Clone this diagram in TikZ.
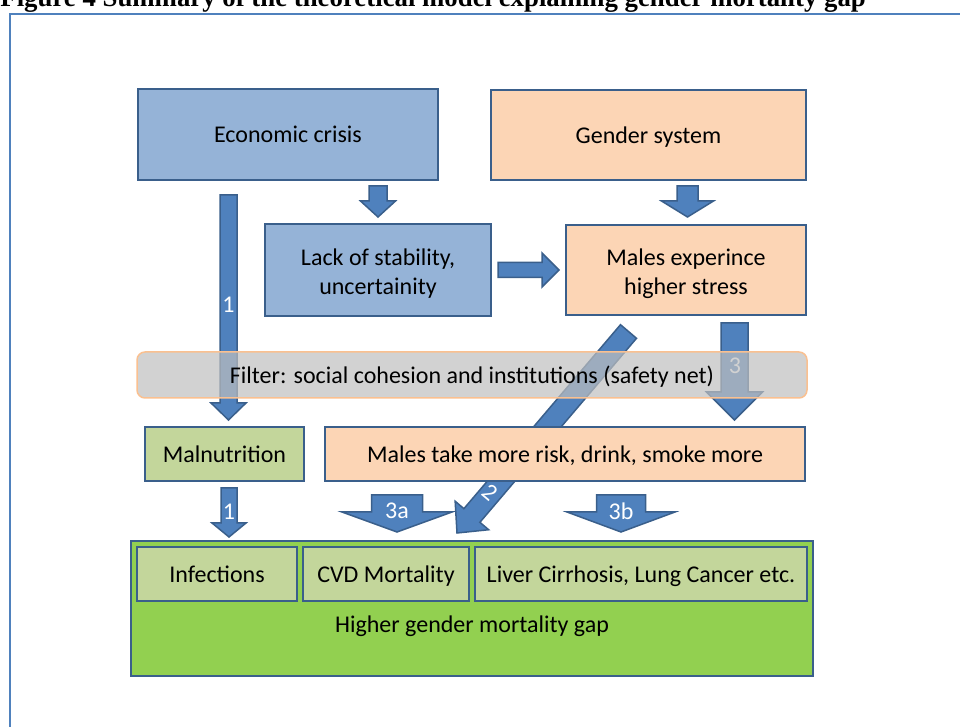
\documentclass[tikz,border=0pt]{standalone}
\usepackage{fontspec}
\setmainfont{Carlito}
\newfontfamily\titlefont{Liberation Serif}
\usetikzlibrary{calc}
\definecolor{boxline}{HTML}{3A5F8B}
\definecolor{crisisfill}{HTML}{95B3D7}
\definecolor{peachfill}{HTML}{FCD5B5}
\definecolor{palegreen}{HTML}{C3D69B}
\definecolor{grassgreen}{HTML}{92D050}
\definecolor{arrowfill}{HTML}{4F81BD}
\definecolor{framecol}{HTML}{4F81BD}
\definecolor{filterline}{HTML}{FAC090}
\definecolor{filterfill}{HTML}{BFBFBF}

% fat arrow: from, to, half shaft, half head, head length (all in px)
\newcommand\fatarrow[5]{%
  \coordinate (fa-h) at ($(#2)!#5*0.5pt!(#1)$);
  \filldraw[blockarrow] ($(#1)!#3*0.5pt!90:(#2)$) -- ($(fa-h)!#3*0.5pt!90:(#2)$)
    -- ($(fa-h)!#4*0.5pt!90:(#2)$) -- (#2) -- ($(fa-h)!#4*0.5pt!-90:(#2)$)
    -- ($(fa-h)!#3*0.5pt!-90:(#2)$) -- ($(#1)!#3*0.5pt!-90:(#2)$) -- cycle;}

\begin{document}
\begin{tikzpicture}[x=0.5pt,y=-0.5pt,
    font=\fontsize{12}{14.5}\selectfont,
    box/.style={draw=boxline,line width=1pt,align=center,inner sep=0pt},
    onerow/.style={text height=2.1ex,text depth=0.4ex},
    crisisbox/.style={box,fill=crisisfill},
    peachbox/.style={box,fill=peachfill},
    palebox/.style={box,fill=palegreen,onerow},
    blockarrow/.style={fill=arrowfill,draw=boxline,line width=0.75pt,line join=miter},
    arrowlabel/.style={text=white,inner sep=0pt}]
  \useasboundingbox (0,0) rectangle (960,727);
  \clip (0,0) rectangle (960,727);
  \node[anchor=base west,inner sep=0pt,font=\titlefont\bfseries\fontsize{13.4}{15}\selectfont] (title) at (0,7) {Figure 4 Summary of the theoretical model explaining gender mortality gap};
  \draw[framecol,line width=1pt] (10,14) rectangle (1000,780);

  \node[crisisbox,onerow,minimum width=150pt,minimum height=45.5pt] (crisis) at (288,134.5) {Economic crisis};
  \node[peachbox,onerow,minimum width=157.5pt,minimum height=45pt] (gender) at (648.5,135) {Gender system};
  \node[crisisbox,minimum width=113pt,minimum height=46pt] (lack) at (378,270) {};
  \node[align=center,inner sep=0pt] (lacktext) at ($(lack.center)+(0,3.5)$) {Lack of stability,\\uncertainity};
  \node[peachbox,minimum width=120pt,minimum height=45pt] (stress) at (686,270) {};
  \node[align=center,inner sep=0pt] (stresstext) at ($(stress.center)+(0,3.5)$) {Males experince\\higher stress};

  \coordinate (e2s) at ($(stress.south)+(-57.5,15.5)$);
  \coordinate (e2t) at (457,533);
  \fatarrow{e2s}{e2t}{10.5}{22}{23}
  \node[arrowlabel,rotate=-40] (l2) at (490,492) {2};

  \node[palebox,minimum width=79.5pt,minimum height=27pt] (malnut) at (224.5,454) {Malnutrition};
  \node[peachbox,onerow,minimum width=240pt,minimum height=27pt] (risk) at (565,454) {Males take more risk, drink, smoke more};
  \node[box,fill=grassgreen,minimum width=341pt,minimum height=67.5pt] (gap) at (472,608.5) {};
  \node[palebox,minimum width=80pt,minimum height=27pt] (infect) at (217,574) {Infections};
  \node[palebox,minimum width=83pt,minimum height=27pt] (cvd) at (386,574) {CVD Mortality};
  \node[palebox,minimum width=166pt,minimum height=27pt] (liver) at (641,574) {Liver Cirrhosis, Lung Cancer etc.};
  \node[onerow] (gaptext) at (472,624) {Higher gender mortality gap};

  \coordinate (e1t) at ($(malnut.north)+(4,-6)$);
  \coordinate (e1s) at ($(e1t |- crisis.south)+(0,14)$);
  \fatarrow{e1s}{e1t}{8.5}{17.5}{17}
  \node[arrowlabel] (l1) at (228.5,305) {1};

  \coordinate (c1s) at ($(lack.north)+(0,-37)$);
  \coordinate (c1t) at ($(lack.north)+(0,-6)$);
  \fatarrow{c1s}{c1t}{9}{17.5}{16}

  \coordinate (g1s) at ($(stress.north)+(1.5,-38)$);
  \coordinate (g1t) at ($(stress.north)+(1.5,-7)$);
  \fatarrow{g1s}{g1t}{10.5}{26}{16}

  \coordinate (h1s) at ($(lack.east)+(6,0)$);
  \coordinate (h1t) at ($(stress.west)+(-6,0)$);
  \fatarrow{h1s}{h1t}{7.5}{17}{17}

  \coordinate (e3s) at ($(stress.south)+(48.5,7)$);
  \coordinate (e3t) at ($(e3s |- risk.north)+(0,-6)$);
  \fatarrow{e3s}{e3t}{13.5}{28}{28}
  \node[arrowlabel] (l3) at (735,366) {3};

  \coordinate (m1s) at ($(malnut.south)+(4.5,6)$);
  \coordinate (m1t) at ($(m1s |- gap.north)+(0,-3)$);
  \fatarrow{m1s}{m1t}{8}{17}{14}
  \node[arrowlabel] (l1b) at (229,512) {1};

  \coordinate (r3as) at ($(risk.south)+(-168,13)$);
  \coordinate (r3at) at ($(r3as |- gap.north)+(0,-8)$);
  \fatarrow{r3as}{r3at}{25.5}{55}{20}
  \node[arrowlabel] (l3a) at (397,511) {3a};

  \coordinate (r3bs) at ($(risk.south)+(56,13)$);
  \coordinate (r3bt) at ($(r3bs |- gap.north)+(0,-8)$);
  \fatarrow{r3bs}{r3bt}{24.5}{54}{20}
  \node[arrowlabel] (l3b) at (621,511) {3b};

  \node[onerow,draw=filterline,line width=0.75pt,fill=filterfill,fill opacity=0.7,text opacity=1,
        rounded corners=4pt,minimum width=335pt,minimum height=23pt] (filter) at (472,375)
        {Filter: social cohesion and institutions (safety net)};
\end{tikzpicture}
\end{document}
